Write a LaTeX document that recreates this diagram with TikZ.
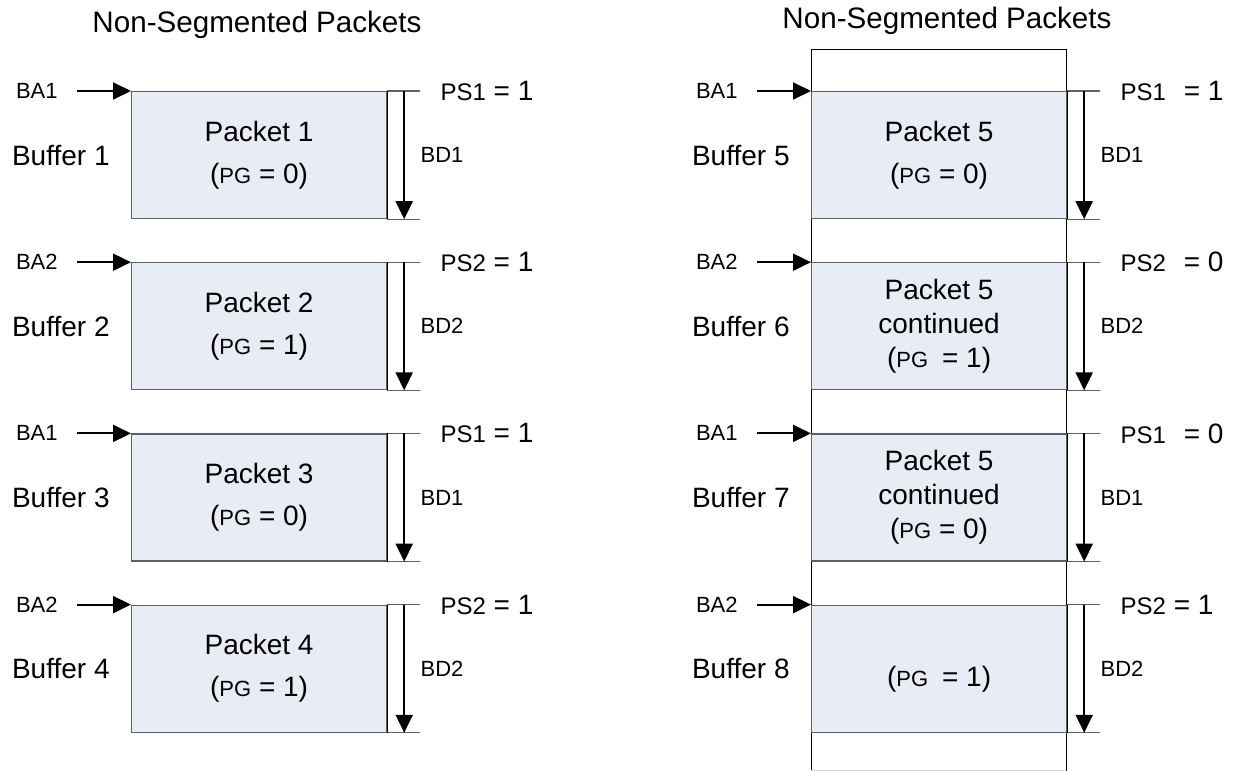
\documentclass[tikz,border=0pt]{standalone}
\usepackage{fontspec}
\setmainfont{Liberation Sans}
\usetikzlibrary{positioning,arrows.meta}
\definecolor{pktfill}{RGB}{232,236,245}
\newcommand{\bigf}{\fontsize{14}{21}\selectfont}
\newcommand{\pg}[2][]{(\fontsize{11}{12}\selectfont PG#1\bigf{} = #2)}
\tikzset{
	x=0.5pt, y=-0.5pt,
	packet/.style={draw=gray!75!black, line width=0.6pt, fill=pktfill, minimum width=127.5pt, minimum height=63.5pt, inner sep=0pt, align=center, anchor=north west, font=\bigf}, % one buffer
	packet3/.style={packet, font=\fontsize{14}{17}\selectfont}, % three lines of text
	rule/.style={draw=gray!75!black, line width=0.6pt},
	ptr/.style={-{Triangle[length=9pt,width=8.5pt]}, line width=1pt},
	lbl/.style={inner sep=0pt, font=\fontsize{11}{12}\selectfont},
	big/.style={inner sep=0pt, font=\bigf},
	title/.style={inner sep=0pt, font=\fontsize{14.8}{16}\selectfont}
}
\begin{document}
\begin{tikzpicture}
\useasboundingbox (0,0) rectangle (1233,771);
% titles
\node[title] (t1) at (257,25) {Non-Segmented Packets};
\node[title] (t2) at (947,21) {Non-Segmented Packets};
% outline behind the right column
\draw[line width=0.5pt] (811,771) |- (1066,49) -- (1066,771);
\draw[gray!30, line width=0.5pt] (811,770) -- (1066,770);
% left column
\node[packet] (b1) at (131,91) {Packet 1\\\pg{0}};
\node[packet, below=21.5pt of b1.south west, anchor=north west] (b2) {Packet 2\\\pg{1}};
\node[packet, below=21.5pt of b2.south west, anchor=north west] (b3) {Packet 3\\\pg{0}};
\node[packet, below=21.5pt of b3.south west, anchor=north west] (b4) {Packet 4\\\pg{1}};
% right column
\node[packet] (b5) at (811,91) {Packet 5\\\pg{0}};
\node[packet3, below=21.5pt of b5.south west, anchor=north west] (b6) {Packet 5\\continued\\\pg[\ ]{1}};
\node[packet3, below=21.5pt of b6.south west, anchor=north west] (b7) {Packet 5\\continued\\\pg{0}};
\node[packet, below=21.5pt of b7.south west, anchor=north west] (b8) {\mbox{}\\\pg[\ ]{1}};
% pointers, sizes and labels
\foreach \i/\ba/\ps/\v/\bd in {1/BA1/PS1/{= 1}/BD1, 2/BA2/PS2/{= 1}/BD2, 3/BA1/PS1/{= 1}/BD1, 4/BA2/PS2/{= 1}/BD2,
                               5/BA1/PS1/{\hspace{5pt}= 1}/BD1, 6/BA2/PS2/{\hspace{5pt}= 0}/BD2, 7/BA1/PS1/{\hspace{5pt}= 0}/BD1, 8/BA2/PS2/{= 1}/BD2} {
	\coordinate (e\i) at ([xshift=16.5pt]b\i.north east);
	\coordinate (f\i) at ([xshift=16.5pt]b\i.south east);
	\coordinate (s\i) at ([xshift=-27pt]b\i.north west);
	\draw[rule] (b\i.north east) -- (e\i);
	\draw[rule] (b\i.south east) -- (f\i);
	\draw[line width=0.5pt] (b\i.north east) -- (b\i.south east);
	\draw[ptr] (s\i) -- (b\i.north west);
	\draw[ptr] ([xshift=8.5pt]b\i.north east) -- ([xshift=8.5pt]b\i.south east);
	\node[lbl, left=9.5pt of s\i] (ba\i) {\ba};
	\node[big, left=10.5pt of b\i] (buf\i) {Buffer \i};
	\node[big, right=10pt of e\i] (ps\i) {{\fontsize{12}{14}\selectfont\ps} \v};
	\node[lbl, anchor=west] (bd\i) at (e\i |- b\i.east) {\bd};
}
\end{tikzpicture}
\end{document}
